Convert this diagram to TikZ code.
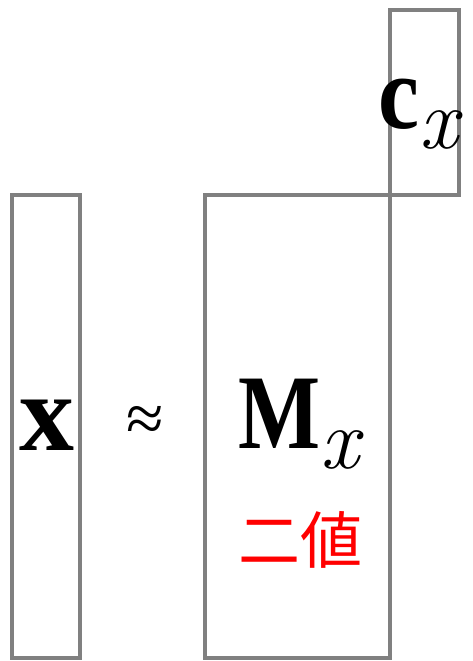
\documentclass[tikz,border=0pt]{standalone}
\usepackage{graphicx}
\usepackage{fontspec}
\newfontfamily\cjk{Noto Sans CJK JP}
\newfontfamily\boldf{Liberation Serif}
\definecolor{boxgray}{RGB}{128,128,128}
\tikzset{
  vecbox/.style={draw=boxgray, line width=4.5pt, rectangle, inner sep=0pt, outer sep=0pt},
  sym/.style={inner sep=0pt, outer sep=0pt}
}
\begin{document}
\begin{tikzpicture}[x=1pt,y=-1pt]
\useasboundingbox (0,0) rectangle (472,661);
\node[vecbox, minimum width=68pt, minimum height=463pt] (xbox) at (46,426.5) {};
\node[vecbox, minimum width=185pt, minimum height=463pt] (mbox) at (297.5,426.5) {};
\node[vecbox, minimum width=69pt, minimum height=185pt] (cbox) at (424.5,102.5) {};
\node[sym, anchor=base] (xlab) at (47,450) {\fontsize{110}{110}\selectfont\boldf\bfseries x};
\node[sym] (approx) at (145,424) {\fontsize{68}{68}\selectfont\boldf ≈};
\node[sym, anchor=base west] (mlab) at (238,448) {\fontsize{106}{106}\selectfont\scalebox{0.82}[1]{\boldf\bfseries M}\raisebox{-20pt}{\fontsize{86}{86}\selectfont\textit{x}}};
\node[sym, text=red] (bin) at (300,540) {\fontsize{62}{62}\selectfont\cjk 二値};
\node[sym, anchor=base west] (clab) at (378,128) {\fontsize{105}{105}\selectfont\scalebox{0.88}[1]{\boldf\bfseries c}\raisebox{-20pt}{\fontsize{86}{86}\selectfont\textit{x}}};
\end{tikzpicture}
\end{document}
